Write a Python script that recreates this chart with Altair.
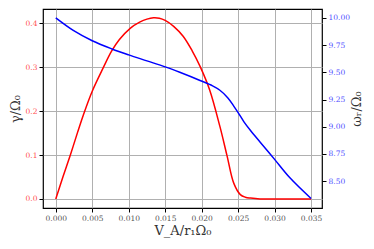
import altair as alt
import pandas as pd

# gamma / Omega_0 (red)
gamma_x = [0.0, 0.001, 0.002, 0.003, 0.00376, 0.005, 0.0065, 0.00765, 0.0087, 0.0102,
           0.0115, 0.0125, 0.0134, 0.0142, 0.015, 0.0162, 0.01746, 0.0187, 0.0198,
           0.0211, 0.0225, 0.0235, 0.0244, 0.0253, 0.0260, 0.0267, 0.028, 0.030, 0.035]
gamma_y = [0.0, 0.051, 0.100, 0.152, 0.190, 0.245, 0.298, 0.336, 0.362, 0.388,
           0.402, 0.409, 0.412, 0.411, 0.406, 0.392, 0.370, 0.337, 0.301,
           0.248, 0.165, 0.097, 0.036, 0.010, 0.004, 0.002, 0.0, 0.0, 0.0]

# omega_r / Omega_0 (blue)
omega_x = [0.0, 0.0024, 0.005, 0.0077, 0.010, 0.0125, 0.015, 0.017, 0.01978, 0.0215,
           0.0225, 0.0236, 0.0244, 0.025, 0.0258, 0.0267, 0.028, 0.030, 0.0321, 0.035]
omega_y = [10.00, 9.885, 9.79, 9.715, 9.66, 9.605, 9.55, 9.50, 9.425, 9.375,
           9.335, 9.265, 9.19, 9.13, 9.045, 8.965, 8.86, 8.70, 8.53, 8.34]

x_ticks = [0.0, 0.005, 0.010, 0.015, 0.020, 0.025, 0.030, 0.035]
g_ticks = [0.0, 0.1, 0.2, 0.3, 0.4]
w_ticks = [8.50, 8.75, 9.00, 9.25, 9.50, 9.75, 10.00]

df_g = pd.DataFrame({"x": gamma_x, "g": gamma_y})
df_w = pd.DataFrame({"x": omega_x, "w": omega_y})

FONT = "DejaVu Serif"

def xenc():
    return alt.X("x:Q", title="V_A/r₁Ω₀",
                 scale=alt.Scale(domain=[-0.00175, 0.0365], nice=False, zero=False),
                 axis=alt.Axis(values=x_ticks, format=".3f", grid=True, labelOverlap=False,
                               gridColor="#b0b0b0", gridWidth=1,
                               titleFontSize=13, titleFont=FONT, titleFontWeight="normal",
                               titleColor="#333333", titlePadding=3))

red = alt.Chart(df_g).mark_line(color="#ff0000", strokeWidth=1.5, interpolate="catmull-rom").encode(
    x=xenc(),
    y=alt.Y("g:Q", title="γ/Ω₀",
            scale=alt.Scale(domain=[-0.0205, 0.432], nice=False, zero=False),
            axis=alt.Axis(values=g_ticks, format=".1f", grid=True, labelOverlap=False,
                          gridColor="#b0b0b0", gridWidth=1,
                          labelColor="#ff5050", titleColor="#333333",
                          titleFontSize=13, titleFont=FONT, titleFontWeight="normal",
                          titleX=-21)),
)

blue = alt.Chart(df_w).mark_line(color="#0000ff", strokeWidth=1.5, interpolate="catmull-rom").encode(
    x=xenc(),
    y=alt.Y("w:Q", title="ωᵣ/Ω₀",
            scale=alt.Scale(domain=[8.253, 10.082], nice=False, zero=False),
            axis=alt.Axis(orient="right", values=w_ticks, format=".2f", grid=False, labelOverlap=False,
                          labelColor="#5050ff", titleColor="#333333",
                          titleFontSize=13, titleFont=FONT, titleFontWeight="normal",
                          titleAngle=270, titleX=41)),
)

chart = alt.layer(red, blue).resolve_scale(y="independent").properties(
    width=279, height=199,
    autosize=alt.AutoSizeParams(type="none"),
    padding={"left": 35, "top": 1, "right": 44, "bottom": 33},
).configure_view(
    stroke="black", strokeWidth=1.2
).configure_axis(
    domain=False, tickColor="black", tickSize=4, tickWidth=1,
    labelFont=FONT, labelFontSize=7.5, labelColor="#555555", labelPadding=2,
)

chart.save("out.html", embed_options={"renderer": "svg", "actions": False})
